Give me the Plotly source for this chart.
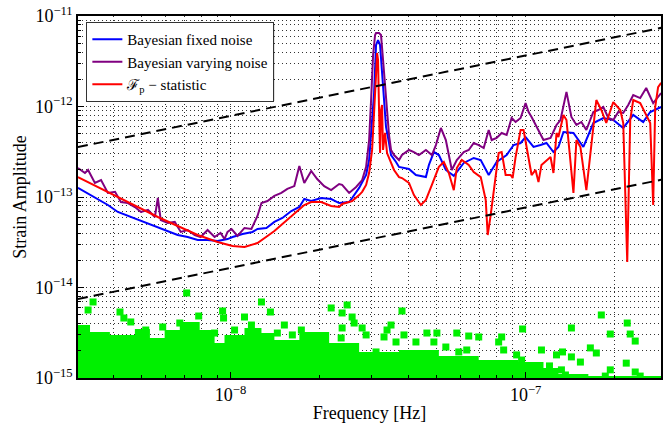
import plotly.graph_objects as go

# ---- Bayesian upper limit, fixed noise model ----
fixed_freq = [3.04e-9, 3.55e-9, 3.84e-9, 4.15e-9, 4.49e-9, 4.85e-9, 5.25e-9, 5.67e-9, 6.13e-9,
              6.62e-9, 7.16e-9, 7.74e-9, 8.36e-9, 9.04e-9, 9.77e-9, 1.016e-8, 1.098e-8, 1.187e-8,
              1.234e-8, 1.323e-8, 1.408e-8, 1.499e-8, 1.607e-8, 1.711e-8, 1.778e-8, 1.877e-8,
              2.029e-8, 2.193e-8, 2.334e-8, 2.523e-8, 2.583e-8, 2.728e-8, 2.881e-8, 2.949e-8,
              3.019e-8, 3.066e-8, 3.113e-8, 3.162e-8, 3.212e-8, 3.262e-8, 3.313e-8, 3.365e-8,
              3.445e-8, 3.499e-8, 3.638e-8, 3.724e-8, 4.025e-8, 4.250e-8, 4.594e-8, 4.702e-8,
              4.889e-8, 5.083e-8, 5.367e-8, 5.711e-8, 6.173e-8, 6.672e-8, 7.047e-8, 7.499e-8,
              7.980e-8, 8.626e-8, 9.110e-8, 9.618e-8, 1.000e-7, 1.064e-7, 1.124e-7, 1.177e-7,
              1.243e-7, 1.292e-7, 1.344e-7, 1.453e-7, 1.570e-7, 1.697e-7, 1.834e-7, 1.983e-7,
              2.143e-7, 2.317e-7, 2.504e-7, 2.645e-7, 2.880e-7]
fixed_amp = [1.26e-13, 9.50e-14, 8.16e-14, 6.83e-14, 6.17e-14, 5.57e-14, 5.03e-14, 4.55e-14, 4.16e-14,
             3.80e-14, 3.61e-14, 3.35e-14, 3.35e-14, 3.27e-14, 3.43e-14, 3.61e-14, 3.90e-14, 4.11e-14,
             4.43e-14, 4.55e-14, 5.30e-14, 5.86e-14, 7.00e-14, 7.75e-14, 9.50e-14, 9.03e-14,
             9.75e-14, 9.50e-14, 8.58e-14, 8.81e-14, 9.75e-14, 1.26e-13, 1.75e-13, 2.56e-13,
             7.09e-13, 1.41e-12, 4.78e-12, 5.43e-12, 4.78e-12, 2.23e-12, 1.18e-12, 5.94e-13,
             3.95e-13, 2.91e-13, 2.44e-13, 2.15e-13, 2.04e-13, 1.75e-13, 1.66e-13, 2.26e-13,
             3.14e-13, 2.91e-13, 1.99e-13, 1.71e-13, 2.38e-13, 2.70e-13, 2.56e-13, 1.75e-13,
             2.44e-13, 2.91e-13, 3.75e-13, 3.95e-13, 4.60e-13, 3.57e-13, 3.75e-13, 3.95e-13,
             3.14e-13, 3.57e-13, 5.23e-13, 5.10e-13, 3.57e-13, 6.57e-13, 7.46e-13, 7.09e-13,
             5.79e-13, 8.06e-13, 6.74e-13, 8.70e-13, 9.87e-13]

# ---- Bayesian upper limit, varying noise model ----
vary_freq = [3.04e-9, 3.21e-9, 3.29e-9, 3.47e-9, 3.64e-9, 3.84e-9, 4.06e-9, 4.25e-9, 4.49e-9,
             4.74e-9, 4.97e-9, 5.25e-9, 5.54e-9, 5.67e-9, 5.80e-9, 6.13e-9, 6.47e-9, 6.78e-9,
             7.16e-9, 7.56e-9, 7.92e-9, 8.36e-9, 8.83e-9, 9.25e-9, 9.54e-9, 9.77e-9, 1.008e-8,
             1.056e-8, 1.115e-8, 1.177e-8, 1.234e-8, 1.273e-8, 1.334e-8, 1.408e-8, 1.487e-8,
             1.558e-8, 1.645e-8, 1.711e-8, 1.778e-8, 1.877e-8, 1.967e-8, 2.077e-8, 2.193e-8,
             2.334e-8, 2.389e-8, 2.523e-8, 2.665e-8, 2.793e-8, 2.881e-8, 2.949e-8, 2.995e-8,
             3.042e-8, 3.090e-8, 3.113e-8, 3.187e-8, 3.236e-8, 3.288e-8, 3.365e-8, 3.445e-8,
             3.499e-8, 3.582e-8, 3.724e-8, 3.812e-8, 4.025e-8, 4.184e-8, 4.350e-8, 4.594e-8,
             4.813e-8, 4.966e-8, 5.163e-8, 5.367e-8, 5.494e-8, 5.623e-8, 5.846e-8, 6.173e-8,
             6.417e-8, 6.672e-8, 6.937e-8, 7.213e-8, 7.499e-8, 7.676e-8, 7.980e-8, 8.297e-8,
             8.626e-8, 8.969e-8, 9.252e-8, 9.618e-8, 1.000e-7, 1.024e-7, 1.048e-7, 1.089e-7,
             1.150e-7, 1.215e-7, 1.273e-7, 1.313e-7, 1.376e-7, 1.430e-7, 1.487e-7, 1.546e-7,
             1.607e-7, 1.697e-7, 1.764e-7, 1.834e-7, 1.908e-7, 1.983e-7, 2.062e-7, 2.143e-7,
             2.228e-7, 2.317e-7, 2.446e-7, 2.564e-7, 2.707e-7, 2.880e-7]
vary_amp = [2.09e-13, 1.84e-13, 1.99e-13, 1.43e-13, 1.54e-13, 1.11e-13, 1.14e-13, 8.81e-14, 8.58e-14,
            7.75e-14, 6.83e-14, 7.19e-14, 6.01e-14, 9.75e-14, 5.57e-14, 5.16e-14, 5.30e-14, 4.11e-14,
            4.32e-14, 3.80e-14, 3.61e-14, 4.32e-14, 3.61e-14, 4.00e-14, 3.43e-14, 4.11e-14, 4.43e-14,
            3.71e-14, 4.55e-14, 4.43e-14, 6.17e-14, 8.58e-14, 9.03e-14, 1.03e-13, 1.11e-13,
            1.23e-13, 1.32e-13, 2.20e-13, 1.43e-13, 1.94e-13, 1.58e-13, 1.32e-13, 1.19e-13,
            1.39e-13, 1.36e-13, 1.11e-13, 1.29e-13, 1.54e-13, 2.15e-13, 4.26e-13, 1.18e-12,
            3.71e-12, 6.17e-12, 6.49e-12, 6.49e-12, 6.17e-12, 3.27e-12, 1.18e-12, 4.84e-13,
            3.31e-13, 2.91e-13, 2.56e-13, 2.91e-13, 3.31e-13, 3.14e-13, 2.91e-13, 3.31e-13,
            2.91e-13, 3.75e-13, 5.79e-13, 4.26e-13, 2.91e-13, 1.99e-13, 2.56e-13, 3.14e-13,
            3.31e-13, 3.95e-13, 3.75e-13, 3.48e-13, 5.50e-13, 4.26e-13, 4.49e-13, 5.10e-13,
            4.84e-13, 7.46e-13, 6.74e-13, 7.46e-13, 1.09e-12, 8.70e-13, 7.66e-13, 5.94e-13,
            4.26e-13, 4.49e-13, 6.25e-13, 7.09e-13, 1.45e-12, 7.66e-13, 6.25e-13, 6.74e-13,
            5.50e-13, 8.70e-13, 9.15e-13, 9.87e-13, 7.46e-13, 7.09e-13, 8.70e-13, 8.48e-13,
            1.04e-12, 1.34e-12, 1.24e-12, 1.60e-12, 1.09e-12, 1.41e-12]

# ---- F_p-statistic upper limit ----
fp_freq = [3.04e-9, 3.55e-9, 4.15e-9, 4.85e-9, 5.67e-9, 6.62e-9, 7.74e-9, 9.04e-9, 1.016e-8,
           1.115e-8, 1.234e-8, 1.334e-8, 1.408e-8, 1.499e-8, 1.607e-8, 1.711e-8, 1.778e-8,
           1.877e-8, 2.029e-8, 2.193e-8, 2.334e-8, 2.389e-8, 2.583e-8, 2.728e-8, 2.793e-8,
           2.881e-8, 2.949e-8, 3.019e-8, 3.066e-8, 3.113e-8, 3.138e-8, 3.162e-8, 3.187e-8,
           3.212e-8, 3.236e-8, 3.262e-8, 3.288e-8, 3.339e-8, 3.392e-8, 3.499e-8, 3.582e-8,
           3.724e-8, 3.812e-8, 4.025e-8, 4.184e-8, 4.418e-8, 4.594e-8, 4.813e-8, 5.083e-8,
           5.284e-8, 5.494e-8, 5.711e-8, 5.846e-8, 6.078e-8, 6.417e-8, 6.672e-8, 7.047e-8,
           7.327e-8, 7.441e-8, 7.617e-8, 7.918e-8, 8.105e-8, 8.297e-8, 8.559e-8, 8.899e-8,
           9.039e-8, 9.252e-8, 9.618e-8, 9.845e-8, 1.008e-7, 1.048e-7, 1.081e-7, 1.106e-7,
           1.132e-7, 1.177e-7, 1.215e-7, 1.243e-7, 1.273e-7, 1.292e-7, 1.344e-7, 1.376e-7,
           1.453e-7, 1.487e-7, 1.534e-7, 1.607e-7, 1.671e-7, 1.737e-7, 1.806e-7, 1.877e-7,
           1.983e-7, 2.094e-7, 2.143e-7, 2.211e-7, 2.263e-7, 2.317e-7, 2.446e-7, 2.544e-7,
           2.645e-7, 2.707e-7, 2.750e-7, 2.813e-7, 2.880e-7]
fp_amp = [1.66e-13, 1.29e-13, 1.00e-13, 7.75e-14, 6.01e-14, 4.78e-14, 3.80e-14, 3.18e-14, 2.87e-14,
          2.80e-14, 3.10e-14, 3.71e-14, 4.21e-14, 5.03e-14, 6.17e-14, 7.37e-14, 8.16e-14,
          8.81e-14, 8.81e-14, 7.96e-14, 7.75e-14, 8.37e-14, 9.03e-14, 1.05e-13, 1.14e-13,
          1.36e-13, 1.84e-13, 3.31e-13, 7.66e-13, 2.23e-12, 3.90e-12, 3.27e-12, 9.15e-13,
          3.06e-13, 9.15e-13, 1.04e-12, 3.31e-13, 5.10e-13, 3.06e-13, 2.38e-13, 1.99e-13,
          1.66e-13, 1.62e-13, 1.43e-13, 1.05e-13, 8.16e-14, 9.27e-14, 1.36e-13, 2.15e-13,
          2.44e-13, 1.84e-13, 1.19e-13, 2.09e-13, 2.56e-13, 2.26e-13, 1.89e-13, 1.66e-13,
          9.27e-14, 3.80e-14, 6.33e-14, 1.84e-13, 3.06e-13, 3.14e-13, 1.75e-13, 1.75e-13,
          1.62e-13, 2.77e-13, 5.50e-13, 5.50e-13, 3.57e-13, 1.75e-13, 1.99e-13, 1.46e-13,
          2.26e-13, 2.56e-13, 2.77e-13, 1.84e-13, 5.10e-13, 4.60e-13, 8.06e-13, 7.09e-13,
          1.11e-13, 4.26e-13, 3.57e-13, 1.19e-13, 3.57e-13, 1.18e-12, 9.15e-13, 6.57e-13,
          1.12e-12, 9.15e-13, 6.57e-13, 1.91e-14, 7.09e-13, 1.18e-12, 1.09e-12, 8.48e-13,
          6.57e-13, 8.16e-14, 9.87e-13, 1.64e-12, 1.82e-12]

# ---- f^(2/3) reference power laws (end points) ----
ref_freq = [3.04e-9, 2.88e-7]
ref_high_amp = [3.56e-13, 7.40e-12]
ref_low_amp = [7.46e-15, 1.55e-13]

# ---- scattered per-frequency values (green squares) ----
# saturated floor of the distribution
floor_freq = [2.90e-9, 3.34e-9, 3.90e-9, 4.74e-9, 5.33e-9, 5.98e-9, 6.73e-9, 7.86e-9, 8.83e-9,
              9.54e-9, 1.115e-8, 1.273e-8, 1.408e-8, 1.711e-8, 2.159e-8, 2.728e-8, 3.724e-8,
              5.083e-8, 6.937e-8, 9.471e-8, 1.150e-7, 1.292e-7, 1.632e-7, 3.0e-7]
floor_amp = [3.85e-15, 3.22e-15, 2.99e-15, 3.48e-15, 2.77e-15, 3.39e-15, 4.16e-15, 3.39e-15, 2.44e-15,
             2.99e-15, 3.57e-15, 3.14e-15, 2.63e-15, 3.22e-15, 2.44e-15, 1.94e-15, 2.04e-15,
             1.75e-15, 1.58e-15, 1.50e-15, 1.29e-15, 1.11e-15, 1.05e-15, 1.05e-15]
# individual points standing out above the floor
pts_freq = [3.29e-9, 3.42e-9, 4.22e-9, 4.35e-9, 4.59e-9, 5.16e-9, 5.89e-9, 6.73e-9, 7.10e-9, 7.80e-9,
            8.36e-9, 8.83e-9, 9.40e-9, 9.47e-9, 1.032e-8, 1.081e-8, 1.115e-8, 1.177e-8, 1.187e-8,
            1.273e-8, 1.365e-8, 1.441e-8, 1.522e-8, 1.620e-8, 1.738e-8, 1.892e-8, 1.999e-8,
            2.193e-8, 2.371e-8, 2.389e-8, 2.389e-8, 2.484e-8, 2.583e-8, 2.624e-8, 2.793e-8,
            2.881e-8, 3.113e-8, 3.313e-8, 3.392e-8, 3.499e-8, 3.638e-8, 3.812e-8, 3.871e-8,
            4.250e-8, 4.629e-8, 4.889e-8, 5.005e-8, 5.367e-8, 5.846e-8, 5.937e-8, 6.318e-8,
            6.417e-8, 6.937e-8, 8.105e-8, 8.297e-8, 8.427e-8, 9.325e-8, 9.694e-8, 9.770e-8,
            1.132e-7, 1.132e-7, 1.205e-7, 1.273e-7, 1.323e-7, 1.334e-7, 1.365e-7, 1.430e-7,
            1.430e-7, 1.534e-7, 1.658e-7, 1.737e-7, 1.806e-7, 1.863e-7, 1.937e-7, 1.937e-7,
            2.194e-7, 2.211e-7, 2.263e-7, 2.353e-7, 2.353e-7, 2.446e-7]
pts_amp = [5.64e-15, 6.92e-15, 5.36e-15, 4.60e-15, 4.16e-15, 3.39e-15, 3.66e-15, 4.05e-15, 8.70e-15,
           4.84e-15, 2.77e-15, 3.14e-15, 5.50e-15, 4.60e-15, 3.39e-15, 2.63e-15, 4.72e-15, 3.85e-15,
           2.77e-15, 6.92e-15, 5.36e-15, 3.14e-15, 3.85e-15, 2.99e-15, 3.39e-15, 2.84e-15,
           2.77e-15, 5.94e-15, 2.77e-15, 5.23e-15, 3.57e-15, 6.41e-15, 4.72e-15, 4.05e-15,
           3.57e-15, 2.99e-15, 1.94e-15, 2.84e-15, 3.39e-15, 3.85e-15, 2.50e-15, 5.50e-15,
           2.99e-15, 2.50e-15, 3.14e-15, 2.50e-15, 3.14e-15, 2.20e-15, 3.14e-15, 1.94e-15,
           2.04e-15, 2.91e-15, 2.84e-15, 2.50e-15, 2.84e-15, 2.04e-15, 1.80e-15, 1.58e-15,
           3.48e-15, 2.04e-15, 1.05e-15, 1.36e-15, 1.80e-15, 1.23e-15, 1.94e-15, 1.08e-15,
           3.57e-15, 1.71e-15, 1.50e-15, 2.15e-15, 1.89e-15, 4.97e-15, 1.05e-15, 3.06e-15,
           1.23e-15, 1.46e-15, 4.05e-15, 3.06e-15, 2.56e-15, 1.165e-15, 1.05e-15]

GREEN = "#00f000"
FONT = "Liberation Serif"

fig = go.Figure()

# green floor as a stepped, closed region reaching below the axis
fig.add_trace(go.Scatter(
    x=floor_freq + [floor_freq[-1], floor_freq[0]],
    y=floor_amp + [5e-16, 5e-16],
    mode="lines", line=dict(color=GREEN, width=0, shape="hv"),
    fill="toself", fillcolor=GREEN, showlegend=False, hoverinfo="skip"))
fig.add_trace(go.Scatter(
    x=pts_freq, y=pts_amp, mode="markers",
    marker=dict(symbol="square", size=7, color=GREEN, line=dict(width=0)),
    showlegend=False))

fig.add_trace(go.Scatter(x=fixed_freq, y=fixed_amp, mode="lines",
                         line=dict(color="#0000ff", width=2), name="Bayesian fixed noise"))
fig.add_trace(go.Scatter(x=vary_freq, y=vary_amp, mode="lines",
                         line=dict(color="#800080", width=2), name="Bayesian varying noise"))
fig.add_trace(go.Scatter(x=fp_freq, y=fp_amp, mode="lines",
                         line=dict(color="#ff0000", width=2),
                         name="ℱ<sub>p</sub> − statistic"))

for amp in (ref_high_amp, ref_low_amp):
    fig.add_trace(go.Scatter(x=ref_freq, y=amp, mode="lines",
                             line=dict(color="black", width=2, dash="10px,6px"),
                             showlegend=False))

def sup(e):
    return "10<sup>−%d</sup>" % e

x_major = [1e-8, 1e-7]
y_major = [1e-15, 1e-14, 1e-13, 1e-12, 1e-11]
x_minor = [m * 10.0 ** d for d in (-9, -8, -7) for m in range(2, 10)]
y_minor = [m * 10.0 ** d for d in (-15, -14, -13, -12) for m in range(2, 10)]

grid = dict(showgrid=True, gridcolor="rgba(0,0,0,0.8)", gridwidth=1, griddash="1px,3px")

fig.update_xaxes(
    type="log", range=[-8.517, -6.541],
    tickmode="array", tickvals=x_major, ticktext=[sup(8), sup(7)],
    ticks="inside", ticklen=6, tickcolor="black",
    showline=True, linecolor="black", linewidth=1.5, mirror=True,
    tickfont=dict(family=FONT, size=18, color="black"),
    title=dict(text="Frequency [Hz]", font=dict(family=FONT, size=18, color="black"), standoff=2),
    minor=dict(tickmode="array", tickvals=x_minor, ticks="inside", ticklen=3,
               tickcolor="black", **grid),
    zeroline=False, **grid)
fig.update_yaxes(
    type="log", range=[-15, -11],
    tickmode="array", tickvals=y_major, ticktext=[sup(15), sup(14), sup(13), sup(12), sup(11)],
    ticks="inside", ticklen=6, tickcolor="black",
    showline=True, linecolor="black", linewidth=1.5, mirror=True,
    tickfont=dict(family=FONT, size=18, color="black"),
    title=dict(text="Strain Amplitude", font=dict(family=FONT, size=18, color="black"), standoff=4),
    minor=dict(tickmode="array", tickvals=y_minor, ticks="inside", ticklen=3,
               tickcolor="black", **grid),
    zeroline=False, **grid)

# soft drop shadow offset behind the legend box
fig.add_shape(type="rect", xref="paper", yref="paper", layer="above",
              x0=0.0188, x1=0.3368, y0=0.765, y1=0.975,
              fillcolor="rgba(0,0,0,0.35)", line=dict(width=0))

fig.update_layout(
    width=663, height=426,
    margin=dict(l=78, r=0, t=16, b=48),
    plot_bgcolor="white", paper_bgcolor="white",
    legend=dict(x=0.014, y=0.984, xanchor="left", yanchor="top",
                bgcolor="white", bordercolor="#333333", borderwidth=1.2,
                font=dict(family=FONT, size=15, color="black"),
                tracegroupgap=0, itemwidth=30),
    showlegend=True,
)

fig.write_html("out.html")
